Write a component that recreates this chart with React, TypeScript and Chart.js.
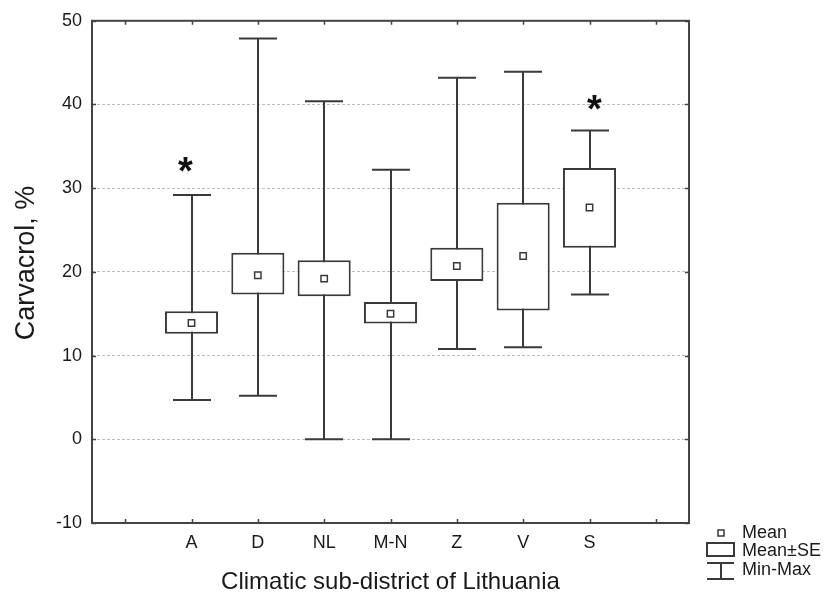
import React, { useEffect, useRef } from "react";
import { Chart, registerables } from "chart.js";

Chart.register(...registerables);

// ---- data ----
const categories = ["", "A", "D", "NL", "M-N", "Z", "V", "S", ""];
const meanValues = [null, 13.9, 19.6, 19.2, 15.0, 20.7, 21.9, 27.7, null];
const seLow = [null, 12.6, 17.3, 17.1, 13.85, 18.9, 15.4, 22.9, null];
const seHigh = [null, 15.3, 22.3, 21.4, 16.4, 22.9, 28.25, 32.4, null];
const minValues = [null, 4.7, 5.2, 0, 0, 10.8, 11.0, 17.3, null];
const maxValues = [null, 29.2, 47.9, 40.4, 32.2, 43.2, 43.9, 36.9, null];
const significance = ["", "*", "", "", "", "", "", "*", ""];
const significanceY = [null, 32.6, null, null, null, null, null, 40.0, null];
const yMin = -10;
const yMax = 50;
const yStep = 10;
const yTitle = "Carvacrol, %";
const xTitle = "Climatic sub-district of Lithuania";
const legendLabels = ["Mean", "Mean\u00B1SE", "Min-Max"];

const FONT = "'Liberation Sans', Arial, sans-serif";
const INK = "#1a1a1a";
const LINE = "#3a3a3a";
// small manual nudges of the significance marks (px), as in the original figure
const SIG_NUDGE: Record<number, number> = { 1: -6, 7: 5 };

const whiskerPlugin = {
  id: "whiskers",
  beforeDatasetsDraw(chart: any) {
    const { ctx } = chart;
    const xs = chart.scales.x;
    const ys = chart.scales.y;
    ctx.save();
    ctx.strokeStyle = LINE;
    ctx.lineWidth = 2;
    const capHalf = 19;
    for (let i = 0; i < categories.length; i++) {
      const mn = minValues[i];
      const mx = maxValues[i];
      if (mn == null || mx == null) continue;
      const x = Math.round(xs.getPixelForValue(i));
      const yTop = ys.getPixelForValue(mx);
      const yBot = ys.getPixelForValue(mn);
      ctx.beginPath();
      ctx.moveTo(x, yTop);
      ctx.lineTo(x, yBot);
      ctx.moveTo(x - capHalf, yTop);
      ctx.lineTo(x + capHalf, yTop);
      ctx.moveTo(x - capHalf, yBot);
      ctx.lineTo(x + capHalf, yBot);
      ctx.stroke();
    }
    ctx.restore();
  },
};

const framePlugin = {
  id: "frame",
  afterDraw(chart: any) {
    const { ctx, chartArea } = chart;
    const { left, right, top, bottom } = chartArea;
    const xs = chart.scales.x;
    const ys = chart.scales.y;
    ctx.save();
    ctx.strokeStyle = "#444";
    ctx.lineWidth = 2;
    ctx.strokeRect(left, top, right - left, bottom - top);
    ctx.lineWidth = 1.5;
    ctx.beginPath();
    const tl = 4;
    for (let i = 0; i < categories.length; i++) {
      const x = Math.round(xs.getPixelForValue(i)) + 0.5;
      ctx.moveTo(x, bottom);
      ctx.lineTo(x, bottom - tl);
      ctx.moveTo(x, top);
      ctx.lineTo(x, top + tl);
    }
    ys.ticks.forEach((t: any) => {
      const y = Math.round(ys.getPixelForValue(t.value)) + 0.5;
      ctx.moveTo(left, y);
      ctx.lineTo(left + tl, y);
      ctx.moveTo(right, y);
      ctx.lineTo(right - tl, y);
    });
    ctx.stroke();

    // significance marks
    ctx.fillStyle = "#111";
    ctx.font = `bold 38px ${FONT}`;
    ctx.textAlign = "center";
    ctx.textBaseline = "middle";
    for (let i = 0; i < categories.length; i++) {
      const v = significanceY[i];
      if (!significance[i] || v == null) continue;
      ctx.fillText(significance[i], xs.getPixelForValue(i) + (SIG_NUDGE[i] || 0), ys.getPixelForValue(v) + 7);
    }

    // axis titles
    ctx.fillStyle = INK;
    ctx.font = `24px ${FONT}`;
    ctx.textAlign = "center";
    ctx.textBaseline = "middle";
    ctx.fillText(xTitle, (left + right) / 2, 582);
    ctx.save();
    ctx.font = `27px ${FONT}`;
    ctx.translate(27, 263);
    ctx.rotate(-Math.PI / 2);
    ctx.fillText(yTitle, 0, 0);
    ctx.restore();

    // legend
    const lx = 721;
    ctx.strokeStyle = LINE;
    ctx.fillStyle = "#fff";
    ctx.beginPath();
    ctx.rect(lx - 3, 530, 6, 6);
    ctx.fill();
    ctx.lineWidth = 1.5;
    ctx.stroke();
    ctx.lineWidth = 2;
    ctx.strokeRect(707, 543, 27, 13);
    ctx.beginPath();
    ctx.moveTo(707, 563);
    ctx.lineTo(734, 563);
    ctx.moveTo(lx, 563);
    ctx.lineTo(lx, 579);
    ctx.moveTo(707, 579);
    ctx.lineTo(734, 579);
    ctx.stroke();
    ctx.fillStyle = INK;
    ctx.font = `18px ${FONT}`;
    ctx.textAlign = "left";
    ctx.textBaseline = "middle";
    ctx.fillText(legendLabels[0], 742, 533);
    ctx.fillText(legendLabels[1], 742, 551);
    ctx.fillText(legendLabels[2], 742, 570);
    ctx.restore();
  },
};

export default function App() {
  const ref = useRef<HTMLCanvasElement | null>(null);
  useEffect(() => {
    document.body.style.margin = "0";
    const canvas = ref.current;
    if (!canvas) return;
    const chart = new Chart(canvas, {
      type: "bar",
      data: {
        labels: categories,
        datasets: [
          {
            type: "line" as any,
            label: "Mean",
            data: meanValues as any,
            showLine: false,
            pointStyle: "rect",
            pointRadius: 4.5,
            pointBackgroundColor: "#fff",
            pointBorderColor: LINE,
            pointBorderWidth: 1.5,
            order: 0,
          } as any,
          {
            label: "Mean\u00B1SE",
            data: seLow.map((lo, i) => (lo == null || seHigh[i] == null ? null : [lo, seHigh[i]])) as any,
            backgroundColor: "#fff",
            borderColor: LINE,
            borderWidth: 2,
            borderSkipped: false,
            barPercentage: 0.8,
            categoryPercentage: 1,
            order: 1,
          },
        ],
      },
      options: {
        responsive: false,
        animation: false,
        devicePixelRatio: 1,
        layout: { padding: { left: 0, top: 19, right: 135, bottom: 0 } },
        plugins: {
          legend: { display: false },
          tooltip: { enabled: false },
          title: { display: false },
        },
        scales: {
          x: {
            type: "category",
            offset: true,
            grid: { display: false, drawTicks: false },
            border: { display: false },
            ticks: {
              color: INK,
              font: { family: FONT, size: 18 },
              padding: 9,
              maxRotation: 0,
              autoSkip: false,
            },
            afterFit(scale: any) {
              scale.height = 70;
            },
          },
          y: {
            min: yMin,
            max: yMax,
            grid: {
              drawTicks: false,
              color: (c: any) =>
                c.tick && (c.tick.value === yMin || c.tick.value === yMax) ? "rgba(0,0,0,0)" : "#bdbdbd",
              lineWidth: 1,
            },
            border: { display: false, dash: [3, 2] },
            ticks: {
              stepSize: yStep,
              color: INK,
              font: { family: FONT, size: 18 },
              padding: 10,
            },
            afterFit(scale: any) {
              scale.width = 92;
            },
          },
        },
      },
      plugins: [whiskerPlugin, framePlugin],
    });
    return () => chart.destroy();
  }, []);
  return (
    <div style={{ position: "absolute", left: 0, top: 0, width: 824, height: 593, background: "#fff" }}>
      <canvas ref={ref} width={824} height={593} style={{ display: "block" }} />
    </div>
  );
}
